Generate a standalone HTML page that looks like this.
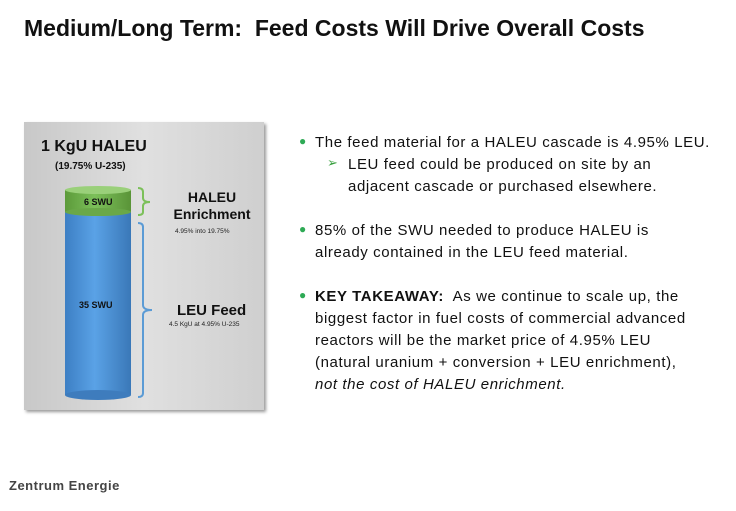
<!DOCTYPE html>
<html><head><meta charset="utf-8"><style>
body{margin:0;width:736px;height:511px;background:#fff;position:relative;overflow:hidden;font-family:"Liberation Sans",sans-serif}
.t{position:absolute;white-space:nowrap}
.b{position:absolute;left:315px;font-size:15px;color:#111;line-height:22px;letter-spacing:0.6px}
.dot{position:absolute;left:299px;color:#2eaa55;font-size:12px}
</style></head><body>
<div class="t" style="left:24px;top:15px;font-size:23px;font-weight:bold;color:#111">Medium/Long Term:&nbsp; Feed Costs Will Drive Overall Costs</div>

<div style="position:absolute;left:24px;top:122px;width:240px;height:288px;background:linear-gradient(90deg,#c8c8c8,#e0e0e0 50%,#cfcfcf);box-shadow:2px 2px 3px #999"></div>
<div class="t" style="left:41px;top:138px;font-size:16px;font-weight:bold;color:#111">1 KgU HALEU</div>
<div class="t" style="left:55px;top:161px;font-size:10px;font-weight:bold;color:#111">(19.75% U-235)</div>

<svg style="position:absolute;left:0;top:0" width="736" height="511">
<defs>
<linearGradient id="gb" x1="0" x2="1"><stop offset="0" stop-color="#3d7fc4"/><stop offset=".45" stop-color="#5aa2e6"/><stop offset="1" stop-color="#3a78b8"/></linearGradient>
<linearGradient id="gg" x1="0" x2="1"><stop offset="0" stop-color="#5c9a3a"/><stop offset=".45" stop-color="#7cc05a"/><stop offset="1" stop-color="#5a9438"/></linearGradient>
</defs>
<g>
<rect x="65" y="212" width="66" height="183" fill="url(#gb)"/>
<ellipse cx="98" cy="395" rx="33" ry="5" fill="#3e7cbd"/>
</g>
<g>
<rect x="65" y="190" width="66" height="22" fill="url(#gg)"/>
<ellipse cx="98" cy="212" rx="33" ry="4" fill="#6aa848"/>
<ellipse cx="98" cy="190" rx="33" ry="4" fill="#9ad07a"/>
</g>
<path d="M138 188 Q143 188 143 192 L143 198 Q143 202 150 202 Q143 202 143 206 L143 212 Q143 215 138 215" fill="none" stroke="#7cc05a" stroke-width="2"/>
<path d="M138 223 Q143 223 143 227 L143 305 Q143 310 152 310 Q143 310 143 315 L143 393 Q143 397 138 397" fill="none" stroke="#5b9bd5" stroke-width="2"/>
</svg>
<div class="t" style="left:84px;top:197px;font-size:9px;font-weight:bold;color:#111">6 SWU</div>
<div class="t" style="left:79px;top:300px;font-size:9px;font-weight:bold;color:#111">35 SWU</div>
<div class="t" style="left:166px;top:189px;width:92px;text-align:center;font-size:14px;font-weight:bold;color:#111;line-height:17px;white-space:normal">HALEU<br>Enrichment</div>
<div class="t" style="left:175px;top:228px;font-size:6.5px;color:#222">4.95% into 19.75%</div>
<div class="t" style="left:177px;top:302px;font-size:15px;font-weight:bold;color:#111">LEU Feed</div>
<div class="t" style="left:169px;top:321px;font-size:6.5px;color:#222">4.5 KgU at 4.95% U-235</div>

<div class="dot" style="top:134px">●</div>
<div class="b" style="top:132px">The feed material for a HALEU cascade is 4.95% LEU.</div>
<div class="t" style="left:327px;top:155px;color:#3aa040;font-size:13px">➢</div>
<div class="b" style="top:154px;left:348px">LEU feed could be produced on site by an<br>adjacent cascade or purchased elsewhere.</div>
<div class="dot" style="top:222px">●</div>
<div class="b" style="top:220px">85% of the SWU needed to produce HALEU is<br>already contained in the LEU feed material.</div>
<div class="dot" style="top:288px">●</div>
<div class="b" style="top:286px"><b>KEY TAKEAWAY:</b>&nbsp; As we continue to scale up, the<br>biggest factor in fuel costs of commercial advanced<br>reactors will be the market price of 4.95% LEU<br>(natural uranium + conversion + LEU enrichment),<br><i>not the cost of HALEU enrichment.</i></div>

<div class="t" style="left:9px;top:478px;font-size:13px;font-weight:bold;color:#444;letter-spacing:0.5px">Zentrum Energie</div>
</body></html>
